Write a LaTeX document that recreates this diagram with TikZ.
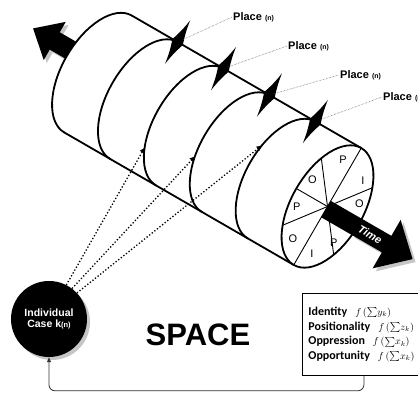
\documentclass[tikz,border=0pt]{standalone}
\usepackage{fontspec}
\setmainfont{Liberation Sans}
\newfontfamily\calfont{Carlito}
\usepackage{tikz}
\usetikzlibrary{arrows.meta, positioning}

\newcommand{\fsum}[1]{{\mdseries\fontsize{10}{10}\selectfont$f\,(\textstyle\sum\!#1_k)$}}

\begin{document}
\begin{tikzpicture}[
        x=1pt, y=1pt,
        ring/.style={line width=1.8pt, line cap=round},
        face/.style={line width=1.8pt, fill=white},
        sector/.style={line width=0.9pt},
        slice/.style={font=\fontsize{11}{11}\selectfont, inner sep=0pt},
        spike/.style={fill=black},
        shade/.style={fill=gray!45},
        placelbl/.style={font=\bfseries\fontsize{11}{11}\selectfont, anchor=west, inner sep=1pt},
        leader/.style={gray!60!black, line width=0.5pt, densely dotted},
        probe/.style={dotted, line width=1.3pt, -{Triangle[length=5pt, width=5pt]}},
        feedback/.style={gray!40!black, line width=0.8pt, rounded corners=6pt, -{Triangle[length=5pt, width=4pt]}},
        casenode/.style={circle, fill=black, text=white, minimum size=76pt, inner sep=0pt, align=center, font=\bfseries\fontsize{10.5}{11.7}\selectfont},
        attrbox/.style={draw, line width=0.8pt, anchor=north west, text width=111pt, inner xsep=6pt, minimum height=82pt, align=left, font=\calfont\bfseries\fontsize{12}{14.7}\selectfont}
    ]
        \useasboundingbox (0,0) rectangle (418,412);
        \clip (0,0) rectangle (418,412);

        % Shadows of the two big arrows
        \begin{scope}[shift={(101,335)}, rotate=-30]
            \fill[shade] (-30,17) -- (-54,17) -- (-54,29) -- (-79,7) -- (-54,-15) -- (-54,-3) -- (-30,-3) -- cycle;
            \fill[shade] (300,6.5) -- (335,6.5) -- (335,25) -- (365,-3) -- (335,-31) -- (335,-12.5) -- (300,-12.5) -- cycle;
        \end{scope}

        % Cylinder
        \begin{scope}[shift={(98,338)}, rotate=-30]
            \fill (-30,17) -- (-54,17) -- (-54,29) -- (-79,7) -- (-54,-15) -- (-54,-3) -- (-30,-3) -- cycle;
            \fill[white] (0,67.5) arc[start angle=90, end angle=270, x radius=36, y radius=67.5]
                -- (265,-67.5) arc[start angle=-90, end angle=90, x radius=36, y radius=67.5] -- cycle;
            \foreach \u in {0,53,106,159,212}
                \draw[ring] (\u,67.5) arc[start angle=90, end angle=270, x radius=36, y radius=67.5];
            \draw[ring] (0,67.5) -- (265,67.5);
            \draw[ring] (0,-67.5) -- (265,-67.5);
            \draw[face] (265,0) ellipse[x radius=36, y radius=67.5];

            % Front face
            \foreach \a in {35,90,145,180}
                \draw[sector] ([shift={(\a:36 and 67.5)}]265,0) -- ([shift={(\a+180:36 and 67.5)}]265,0);
            \foreach \a/\t in {111/P, 50/I, 21/O, 327/P, 291/I, 241/O, 197/P, 162/O}
                \node[slice] at ([shift={(\a:28 and 52)}]265,0) {\t};

            % Time
            \fill (265,6.5) -- (335,6.5) -- (335,25) -- (365,-3) -- (335,-31) -- (335,-12.5) -- (265,-12.5) -- cycle;
            \node[text=white, rotate=-30, inner sep=0pt, font=\bfseries\itshape\fontsize{11}{11}\selectfont] (time) at (316,-3) {Time};

            % Places
            \foreach \u [count=\i] in {53,106,159,212} {
                \coordinate (s\i) at (\u,67.5);
                \fill[spike] (s\i) ++(0,25) to[bend right=5] ++(6,-25) to[bend right=5] ++(-6,-25)
                    to[bend right=5] ++(-6,25) to[bend right=5] cycle;
            }
            \coordinate (t1) at ([shift={(217:36 and 67.5)}]106,0);
            \coordinate (t2) at ([shift={(200:36 and 67.5)}]159,0);
            \coordinate (t3) at ([shift={(163:36 and 67.5)}]212,0);
        \end{scope}

        % Place labels
        \node[placelbl] (pl1) at (232,395) {Place {\fontsize{7}{7}\selectfont(n)}};
        \node[placelbl] (pl2) at (287,366) {Place {\fontsize{7}{7}\selectfont(n)}};
        \node[placelbl] (pl3) at (339,337) {Place {\fontsize{7}{7}\selectfont(n)}};
        \node[placelbl] (pl4) at (382,315) {Place {\fontsize{7}{7}\selectfont(n)}};
        \foreach \i in {1,...,4}
            \draw[leader, shorten <=5pt] (s\i) -- (pl\i.west);

        % Individual case
        \fill[shade] (52,90) circle[radius=38];
        \node[casenode] (ic) at (49,93) {Individual\\Case k{\fontsize{7.5}{8}\selectfont(n)}};
        \draw[probe] (ic.63) -- (t1);
        \draw[probe] (ic.53) -- (t2);
        \draw[probe] (ic.43) -- (t3);

        \node[font=\bfseries\fontsize{31}{31}\selectfont] (space) at (198,77) {SPACE};

        % Attributes
        \node[attrbox] (attr) at (302,119) {Identity~~\fsum{y}\\
            Positionality~~\fsum{z}\\
            Oppression~~\fsum{x}\\
            Opportunity~~\fsum{x}};
        \draw[feedback] (attr.south) -- ++(0,-15) -| (ic.south);
    \end{tikzpicture}
\end{document}
